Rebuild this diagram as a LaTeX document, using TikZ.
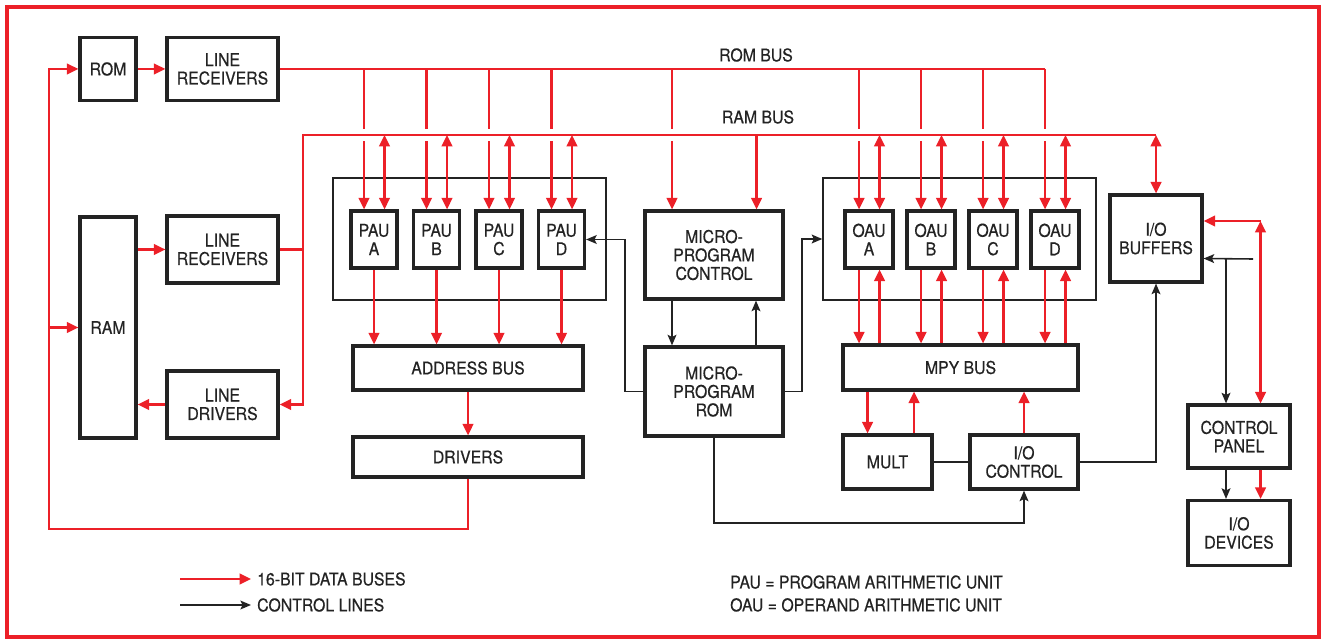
\documentclass[tikz,border=0pt]{standalone}
\usepackage{fontspec}
\setmainfont[FakeStretch=0.9, FakeBold=0.5]{TeX Gyre Heros}
\usepackage{xcolor}
\usepackage{tikz}
\usetikzlibrary{arrows.meta, positioning, calc}
\definecolor{MpuRed}{RGB}{236, 32, 40}
\definecolor{MpuInk}{RGB}{35, 35, 35}

\tikzset{
  unitbox/.style={draw=MpuInk, line width=1.8pt, align=center, inner sep=2pt,
    text=MpuInk, font=\fontsize{10}{10.5}\selectfont},
  groupbox/.style={draw=MpuInk, line width=0.8pt, inner sep=0pt},
  databus/.style={draw=MpuRed, line width=1.3pt, >={Triangle[length=6.5pt,width=6pt]}},
  ctlline/.style={draw=MpuInk, line width=0.9pt, >={Stealth[length=6pt,width=5pt,inset=1.2pt]}},
  lbl/.style={text=MpuInk, font=\fontsize{10}{13}\selectfont}
}

\begin{document}
\begin{tikzpicture}[x=0.2mm, y=-0.2mm]
    \useasboundingbox (0,0) rectangle (1327,642);
    \draw[MpuRed, line width=1.8pt] (7,7) rectangle (1319,637);

    \node[unitbox, minimum width=11.2mm, minimum height=12.6mm] (rom) at (108,69) {ROM};
    \node[unitbox, minimum width=22.2mm, minimum height=12.6mm] (lrcvA) at (222.5,69) {LINE\\RECEIVERS};
    \node[unitbox, minimum width=11.2mm, minimum height=44.2mm] (ram) at (108,327.5) {RAM};
    \node[unitbox, minimum width=22.2mm, minimum height=13.4mm] (lrcvB) at (222.5,249.5) {LINE\\RECEIVERS};
    \node[unitbox, minimum width=22.2mm, minimum height=13.4mm] (ldrv) at (222.5,404.5) {LINE\\DRIVERS};

    \node[groupbox, minimum width=54.6mm, minimum height=24.4mm] (paugrp) at (469.5,239) {};
    \foreach \n/\x in {A/374,B/436.5,C/499,D/561.5}
      \node[unitbox, minimum width=9.2mm, minimum height=11.4mm] (pau\n) at (\x,239.5) {PAU\\\n};
    \node[unitbox, minimum width=46mm, minimum height=8.8mm] (addr) at (468,368) {ADDRESS BUS};
    \node[unitbox, minimum width=46mm, minimum height=8mm] (drv) at (468,457) {DRIVERS};

    \node[unitbox, minimum width=27.6mm, minimum height=17.6mm] (mpc) at (714,255) {MICRO-\\PROGRAM\\CONTROL};
    \node[unitbox, minimum width=27.6mm, minimum height=17.8mm] (mprom) at (714,391.5) {MICRO-\\PROGRAM\\ROM};

    \node[groupbox, minimum width=54.6mm, minimum height=24.4mm] (oaugrp) at (959.5,239) {};
    \foreach \n/\x in {A/869,B/931,C/993,D/1055}
      \node[unitbox, minimum width=9.6mm, minimum height=11.4mm] (oau\n) at (\x,239.5) {OAU\\\n};
    \node[unitbox, minimum width=47mm, minimum height=9mm] (mpy) at (960.5,367.5) {MPY BUS};
    \node[unitbox, minimum width=17.8mm, minimum height=10.8mm] (mult) at (887.5,462) {MULT};
    \node[unitbox, minimum width=21.6mm, minimum height=10.8mm] (ioctl) at (1024,462) {I/O\\CONTROL};

    \node[unitbox, minimum width=18.4mm, minimum height=17.4mm] (iobuf) at (1156,238.5) {I/O\\BUFFERS};
    \node[unitbox, minimum width=20.4mm, minimum height=12.6mm] (cpanel) at (1239,436.5) {CONTROL\\PANEL};
    \node[unitbox, minimum width=20.4mm, minimum height=13mm] (iodev) at (1239,533) {I/O\\DEVICES};

    \node[lbl] (romLbl) at (756,55) {ROM BUS};
    \node[lbl] (ramLbl) at (758,117) {RAM BUS};

    \coordinate (romBus) at (lrcvA.east);
    \coordinate (ramBus) at (303,135);
    \coordinate (loopBL) at (49,529);
    \coordinate (ctlL) at (625,0);
    \coordinate (ctlR) at (802,0);
    \coordinate (ctlB) at (0,523);
    \coordinate (ctlIn) at (1253,259);
    \coordinate (bufR) at ([yshift=3.5mm]iobuf.east);
    \coordinate (bufC) at ([yshift=-4mm]iobuf.east);
    \coordinate (cpR) at ([xshift=4.3mm]cpanel.north);
    \coordinate (cpL) at ([xshift=-2.6mm]cpanel.north);

    \draw[databus,->] (rom.east) -- (lrcvA.west);
    \draw[databus] (romBus) -- ([xshift=-2mm]oauD.north |- romBus);
    \foreach \u in {pauA,pauB,pauC,pauD,oauA,oauB,oauC,oauD}
      \draw[databus,->] ([xshift=-2mm]\u.north |- romBus) -- ([xshift=-2mm]\u.north);
    \draw[databus,->] ([xshift=-8.4mm]mpc.north |- romBus) -- ([xshift=-8.4mm]mpc.north);

    \foreach \u in {pauA,pauB,pauC,pauD,oauA,oauB,oauC,oauD}
      \fill[white] ([xshift=-2mm]\u.north |- ramBus) +(-4,-6) rectangle +(4,6);
    \fill[white] ([xshift=-8.4mm]mpc.north |- ramBus) +(-4,-6) rectangle +(4,6);

    \draw[databus,<-] (ldrv.east) -| (ramBus) -- (iobuf.north |- ramBus);
    \draw[databus] (lrcvB.east) -- (lrcvB.east -| ramBus);
    \foreach \u in {pauA,pauB,pauC,pauD,oauA,oauB,oauC,oauD}
      \draw[databus,<->] ([xshift=2.1mm]\u.north |- ramBus) -- ([xshift=2.1mm]\u.north);
    \draw[databus,->] ([xshift=8.5mm]mpc.north |- ramBus) -- ([xshift=8.5mm]mpc.north);
    \draw[databus,<->] (iobuf.north |- ramBus) -- (iobuf.north);

    \draw[databus,->] (ram.east |- lrcvB.west) -- (lrcvB.west);
    \draw[databus,->] (ldrv.west) -- (ldrv.west -| ram.east);
    \draw[databus,->] (drv.south) |- (loopBL) |- (rom.west);
    \draw[databus,->] (loopBL |- ram.west) -- (ram.west);

    \foreach \u in {pauA,pauB,pauC,pauD}
      \draw[databus,->] (\u.south) -- (\u.south |- addr.north);
    \draw[databus,->] (addr.south) -- (drv.north);

    \foreach \u in {oauA,oauB,oauC,oauD}{
      \draw[databus,->] ([xshift=-2mm]\u.south) -- ([xshift=-2mm]\u.south |- mpy.north);
      \draw[databus,->] ([xshift=2.1mm]\u.south |- mpy.north) -- ([xshift=2.1mm]\u.south);
    }
    \draw[databus,->] ([xshift=-4mm]mult.north |- mpy.south) -- ([xshift=-4mm]mult.north);
    \draw[databus,->] ([xshift=5.3mm]mult.north) -- ([xshift=5.3mm]mult.north |- mpy.south);
    \draw[databus,->] (ioctl.north) -- (ioctl.north |- mpy.south);

    \draw[databus,<-] (bufR) -- (cpR |- bufR);
    \draw[databus,<->] (cpR |- bufR) -- (cpR);
    \draw[databus,->] ([xshift=4.3mm]cpanel.south) -- ([xshift=4.3mm]iodev.north);

    \draw[ctlline,->] ([xshift=-8.4mm]mpc.south) -- ([xshift=-8.4mm]mprom.north);
    \draw[ctlline,->] ([xshift=8.4mm]mprom.north) -- ([xshift=8.4mm]mpc.south);
    \draw[ctlline,->] (mprom.west) -| (ctlL |- pauD.east) -- (pauD.east);
    \draw[ctlline,->] (mprom.east) -| (ctlR |- oaugrp.west) -- (oaugrp.west);
    \draw[ctlline,->] (mprom.south) -- (mprom.south |- ctlB) -| (ioctl.south);
    \draw[ctlline] (mult.east) -- (ioctl.west);
    \draw[ctlline,->] (ioctl.east) -| (iobuf.south);
    \draw[ctlline,->] (ctlIn) -- (bufC);
    \draw[ctlline,->] (cpL |- bufC) -- (cpL);
    \draw[ctlline,->] ([xshift=-2.6mm]cpanel.south) -- ([xshift=-2.6mm]iodev.north);

    \coordinate (legDataStart) at (180,579);
    \coordinate (legCtlStart) at (180,605);
    \node[lbl, anchor=west] (legData) at (251,579) {16-BIT DATA BUSES};
    \node[lbl, anchor=west] (legCtl) at (251,605) {CONTROL LINES};
    \draw[databus,->] (legDataStart) -- (legData.west);
    \draw[ctlline,->] (legCtlStart) -- (legCtl.west);
    \node[lbl, anchor=west, align=left] (abbr) at (724,593.5)
      {PAU = PROGRAM ARITHMETIC UNIT\\OAU = OPERAND ARITHMETIC UNIT};
  \end{tikzpicture}
\end{document}
